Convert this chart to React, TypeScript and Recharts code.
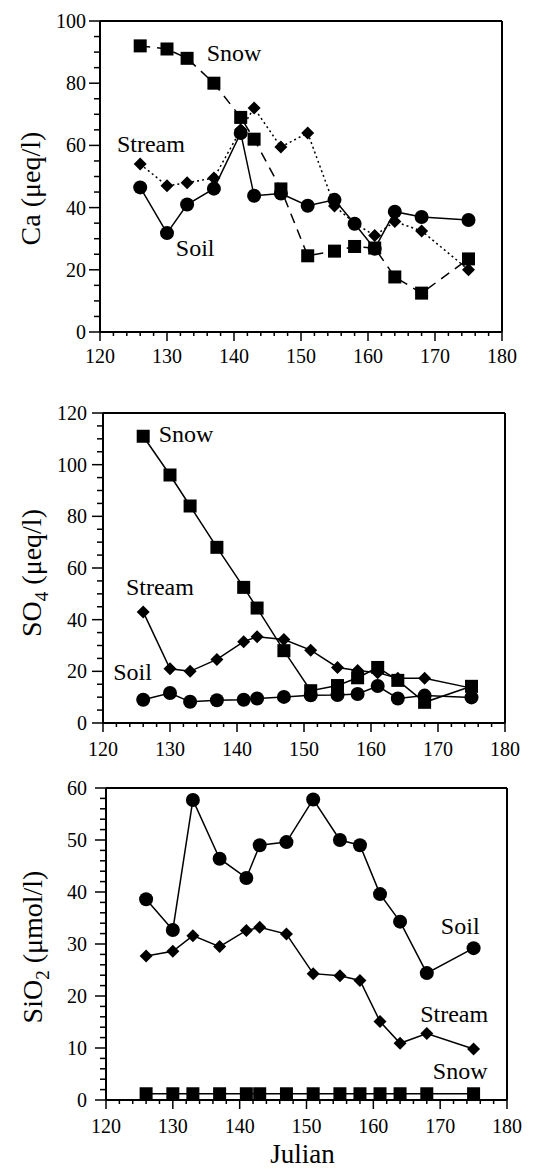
import React from 'react';
import { LineChart, Line, XAxis, YAxis, ReferenceLine, ReferenceDot } from 'recharts';

const days = [126, 130, 133, 137, 141, 143, 147, 151, 155, 158, 161, 164, 168, 175];

const caSnow = [92, 91, 88, 80, 69, 62, 46, 24.5, 26, 27.5, 27, 17.7, 12.5, 23.5];
const caStream = [54, 47, 48, 49.5, 65, 72, 59.5, 64, 40.5, 35, 31, 35.5, 32.5, 20];
const caSoil = [46.5, 31.8, 41, 46.1, 64, 43.8, 44.5, 40.6, 42.5, 34.8, 26.8, 38.7, 37, 36];

const so4Snow = [111, 96, 84, 68, 52.5, 44.5, 28, 12.5, 14.5, 17.5, 21.5, 16.5, 8, 14.2];
const so4Stream = [43, 21, 20, 24.6, 31.5, 33.4, 32.3, 28.2, 21.5, 20.3, 19.5, 17.3, 17.3, 13.5];
const so4Soil = [9, 11.6, 8.2, 8.8, 9, 9.5, 10.1, 10.7, 10.8, 11.2, 14.3, 9.5, 10.6, 9.9];

const siSoil = [38.6, 32.7, 57.7, 46.4, 42.7, 49, 49.6, 57.8, 50, 49, 39.6, 34.3, 24.4, 29.2];
const siStream = [27.7, 28.6, 31.6, 29.5, 32.6, 33.2, 31.9, 24.3, 23.9, 23, 15.1, 10.9, 12.8, 9.8];
const siSnow = [1.2, 1.2, 1.2, 1.2, 1.2, 1.2, 1.2, 1.2, 1.2, 1.2, 1.2, 1.2, 1.2, 1.2];

const xTicks = [120, 122, 124, 126, 128, 130, 132, 134, 136, 138, 140, 142, 144, 146, 148, 150, 152, 154, 156, 158, 160, 162, 164, 166, 168, 170, 172, 174, 176, 178, 180];
const caTicks = [0, 5, 10, 15, 20, 25, 30, 35, 40, 45, 50, 55, 60, 65, 70, 75, 80, 85, 90, 95, 100];
const so4Ticks = [0, 5, 10, 15, 20, 25, 30, 35, 40, 45, 50, 55, 60, 65, 70, 75, 80, 85, 90, 95, 100, 105, 110, 115, 120];
const siTicks = [0, 2, 4, 6, 8, 10, 12, 14, 16, 18, 20, 22, 24, 26, 28, 30, 32, 34, 36, 38, 40, 42, 44, 46, 48, 50, 52, 54, 56, 58, 60];

const FONT = '"Liberation Serif", "DejaVu Serif", "Times New Roman", serif';
const TICK_FS = 20;
const ANN_FS = 24;

const build = (a: number[], b: number[], c: number[]) =>
  days.map((d, i) => ({ day: d, snow: a[i], stream: b[i], soil: c[i] }));

const caData = build(caSnow, caStream, caSoil);
const so4Data = build(so4Snow, so4Stream, so4Soil);
const siData = build(siSnow, siStream, siSoil);

const squareDot = (s: number) => (p: any) => {
  if (p.cx == null || p.cy == null) return <g key={p.index} />;
  return <rect key={p.index} x={p.cx - s / 2} y={p.cy - s / 2} width={s} height={s} fill="#000" />;
};
const circleDot = (r: number) => (p: any) => {
  if (p.cx == null || p.cy == null) return <g key={p.index} />;
  return <circle key={p.index} cx={p.cx} cy={p.cy} r={r} fill="#000" />;
};
const diamondDot = (h: number) => (p: any) => {
  if (p.cx == null || p.cy == null) return <g key={p.index} />;
  const { cx, cy } = p;
  return <polygon key={p.index} points={`${cx},${cy - h} ${cx + h},${cy} ${cx},${cy + h} ${cx - h},${cy}`} fill="#000" />;
};

const makeXTick = (labelOff: number) => (p: any) => {
  const v = p.payload.value;
  const major = v % 10 === 0;
  return (
    <g>
      <line x1={p.x} y1={p.y} x2={p.x} y2={p.y + (major ? 9 : 4)} stroke="#000" strokeWidth={1.5} />
      {major && (
        <text x={p.x} y={p.y + labelOff} textAnchor="middle" dominantBaseline="central" fontSize={TICK_FS} fontFamily={FONT} fill="#000">
          {v}
        </text>
      )}
    </g>
  );
};

const makeYTick = (majorStep: number, labelOff: number) => (p: any) => {
  const v = p.payload.value;
  const major = v % majorStep === 0;
  return (
    <g>
      <line x1={p.x} y1={p.y} x2={p.x - (major ? 11 : 6)} y2={p.y} stroke="#000" strokeWidth={1.5} />
      {major && (
        <text x={p.x - labelOff} y={p.y} textAnchor="end" dominantBaseline="central" fontSize={TICK_FS} fontFamily={FONT} fill="#000">
          {v}
        </text>
      )}
    </g>
  );
};

const textShape = (txt: string, size: number) => (p: any) => (
  <text x={p.cx} y={p.cy} textAnchor="middle" dominantBaseline="central" fontSize={size} fontFamily={FONT} fill="#000">
    {txt}
  </text>
);

const yLabel = (content: React.ReactNode, dx: number, dy: number) => (p: any) => {
  const vb = p.viewBox;
  const cx = vb.x + vb.width - dx;
  const cy = vb.y + vb.height / 2 + dy;
  return (
    <text x={cx} y={cy} transform={`rotate(-90 ${cx} ${cy})`} textAnchor="middle" dominantBaseline="central" fontSize={28} fontFamily={FONT} fill="#000">
      {content}
    </text>
  );
};

type PanelProps = {
  data: any[];
  top: number;
  height: number;
  margin: any;
  yWidth: number;
  xHeight: number;
  yMax: number;
  yTicks: number[];
  yMajor: number;
  yLabelOff: number;
  xLabelOff: number;
  label: any;
  snowDash?: string;
  streamDash?: string;
  annotations: { t: string; x: number; y: number }[];
  julian?: boolean;
};

function Panel(props: PanelProps) {
  const {
    data, top, height, margin, yWidth, xHeight, yMax, yTicks, yMajor, yLabelOff, xLabelOff, label,
    snowDash, streamDash, annotations, julian,
  } = props;
  return (
    <div style={{ position: 'absolute', left: 0, top, width: 538, height }}>
      <LineChart width={538} height={height} data={data} margin={margin}>
        <XAxis
          dataKey="day"
          type="number"
          domain={[120, 180]}
          ticks={xTicks}
          interval={0}
          tickSize={0}
          tickMargin={0}
          height={xHeight}
          axisLine={{ stroke: '#000', strokeWidth: 2 }}
          tickLine={false}
          tick={makeXTick(xLabelOff)}
          allowDataOverflow
          label={
            julian
              ? (p: any) => {
                  const vb = p.viewBox;
                  return (
                    <text x={vb.x + vb.width / 2 - 4} y={vb.y + 54} textAnchor="middle" dominantBaseline="central" fontSize={27} fontFamily={FONT} fill="#000">
                      Julian
                    </text>
                  );
                }
              : undefined
          }
        />
        <YAxis
          type="number"
          domain={[0, yMax]}
          ticks={yTicks}
          interval={0}
          tickSize={0}
          tickMargin={0}
          width={yWidth}
          axisLine={{ stroke: '#000', strokeWidth: 2 }}
          tickLine={false}
          tick={makeYTick(yMajor, yLabelOff)}
          allowDataOverflow
          label={label}
        />
        <ReferenceLine x={180} stroke="#000" strokeWidth={2} />
        <ReferenceLine y={yMax} stroke="#000" strokeWidth={2} />
        <Line
          dataKey="soil"
          stroke="#000"
          strokeWidth={1.5}
          dot={circleDot(7)}
          activeDot={false}
          isAnimationActive={false}
        />
        <Line
          dataKey="stream"
          stroke="#000"
          strokeWidth={1.5}
          strokeDasharray={streamDash}
          dot={diamondDot(6.5)}
          activeDot={false}
          isAnimationActive={false}
        />
        <Line
          dataKey="snow"
          stroke="#000"
          strokeWidth={1.5}
          strokeDasharray={snowDash}
          dot={squareDot(13)}
          activeDot={false}
          isAnimationActive={false}
        />
        {annotations.map((a, i) => (
          <ReferenceDot key={i} x={a.x} y={a.y} r={0} shape={textShape(a.t, ANN_FS)} />
        ))}
      </LineChart>
    </div>
  );
}

const MU = '\u03bc';

export default function App() {
  return (
    <div style={{ position: 'absolute', left: 0, top: 0, width: 538, height: 1172, background: '#fff' }}>
      <Panel
        data={caData}
        top={0}
        height={370}
        margin={{ top: 21, right: 36, bottom: 0, left: 0 }}
        yWidth={100}
        xHeight={38}
        yMax={100}
        yTicks={caTicks}
        yMajor={20}
        yLabelOff={14}
        xLabelOff={24}
        label={{ content: yLabel(`Ca  (${MU}eq/l)`, 70, 12) }}
        snowDash="10 7"
        streamDash="2 3"
        annotations={[
          { t: 'Snow', x: 140, y: 89.6 },
          { t: 'Stream', x: 127.6, y: 60.5 },
          { t: 'Soil', x: 134.2, y: 27 },
        ]}
      />
      <Panel
        data={so4Data}
        top={370}
        height={390}
        margin={{ top: 43, right: 33, bottom: 0, left: 0 }}
        yWidth={103}
        xHeight={37}
        yMax={120}
        yTicks={so4Ticks}
        yMajor={20}
        yLabelOff={16}
        xLabelOff={26}
        label={{
          content: yLabel(
            <>
              SO<tspan baselineShift="sub" fontSize={19}>4</tspan>
              <tspan baselineShift="0">{`  (${MU}eq/l)`}</tspan>
            </>,
            72,
            5
          ),
        }}
        annotations={[
          { t: 'Snow', x: 132.4, y: 112 },
          { t: 'Stream', x: 128.5, y: 52.7 },
          { t: 'Soil', x: 124.4, y: 19.6 },
        ]}
      />
      <Panel
        data={siData}
        top={760}
        height={412}
        margin={{ top: 28, right: 31, bottom: 0, left: 0 }}
        yWidth={106}
        xHeight={72}
        yMax={60}
        yTicks={siTicks}
        yMajor={10}
        yLabelOff={19}
        xLabelOff={26}
        julian
        label={{
          content: yLabel(
            <>
              SiO<tspan baselineShift="sub" fontSize={19}>2</tspan>
              <tspan baselineShift="0">{` (${MU}mol/l)`}</tspan>
            </>,
            74,
            3
          ),
        }}
        annotations={[
          { t: 'Soil', x: 173, y: 33.5 },
          { t: 'Stream', x: 172.1, y: 16.6 },
          { t: 'Snow', x: 173, y: 5.6 },
        ]}
      />
    </div>
  );
}
